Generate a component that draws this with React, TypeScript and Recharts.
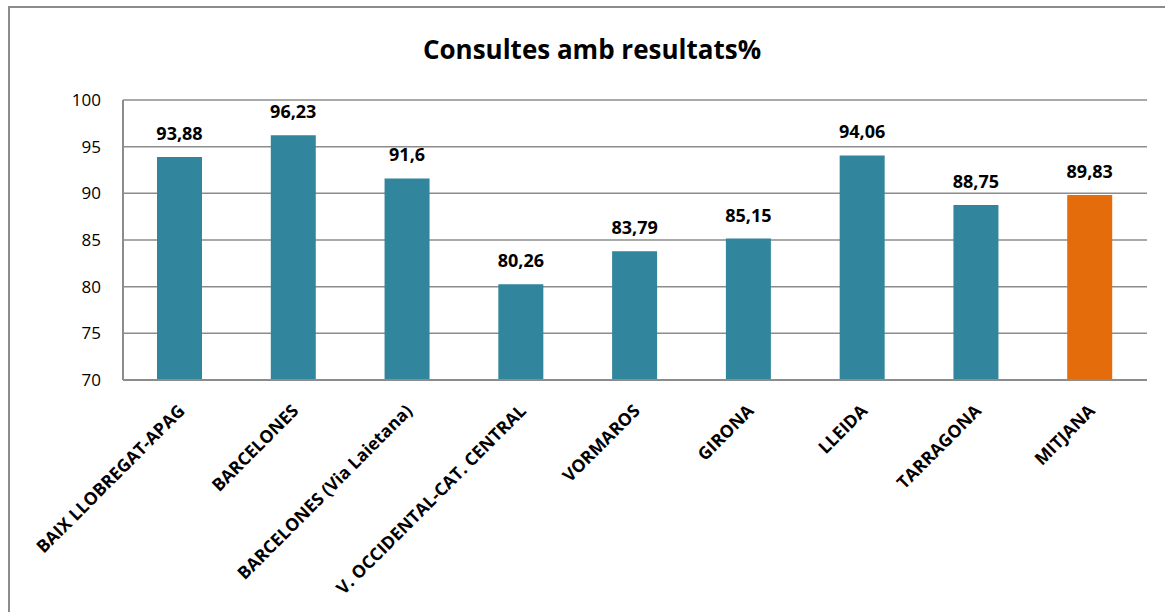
import { BarChart, Bar, XAxis, YAxis, CartesianGrid, LabelList, Cell } from "recharts";

const categories = [
  "BAIX LLOBREGAT-APAG",
  "BARCELONES",
  "BARCELONES (Via Laietana)",
  "V. OCCIDENTAL-CAT. CENTRAL",
  "VORMAROS",
  "GIRONA",
  "LLEIDA",
  "TARRAGONA",
  "MITJANA",
];
const values = [93.88, 96.23, 91.6, 80.26, 83.79, 85.15, 94.06, 88.75, 89.83];
const yTicks = [70, 75, 80, 85, 90, 95, 100];
const title = "Consultes amb resultats%";

const TEAL = "#31859C";
const ORANGE = "#E46C0A";
const GRID = "#8C8C8C";
const FONT = "'Open Sans', sans-serif";

const data = categories.map((name, i) => ({ name, value: values[i] }));

// rotated category label, end anchored just under the tick
const AngledTick = (props: any) => {
  const { x, y, payload } = props;
  return (
    <g transform={`translate(${x + 6},${y + 24})`}>
      <text
        transform="rotate(-45)"
        textAnchor="end"
        fontFamily={FONT}
        fontWeight={700}
        fontSize={17.5}
        fill="#000"
      >
        {payload.value}
      </text>
    </g>
  );
};

export default function App() {
  return (
    <div style={{ position: "fixed", left: 0, top: 0, width: 1165, height: 612, overflow: "hidden", background: "#fff" }}>
      <div
        style={{
          position: "absolute",
          left: 8,
          top: 6,
          width: 1200,
          height: 700,
          borderLeft: `2px solid ${GRID}`,
          borderTop: `2px solid ${GRID}`,
        }}
      />
      <BarChart
        width={1165}
        height={612}
        data={data}
        margin={{ top: 100, right: 18, bottom: 32, left: 62 }}
        barSize={45}
      >
        <CartesianGrid vertical={false} stroke={GRID} strokeWidth={1.5} />
        <XAxis
          dataKey="name"
          interval={0}
          height={200}
          tickLine={false}
          axisLine={{ stroke: GRID, strokeWidth: 2 }}
          tick={<AngledTick />}
        />
        <YAxis
          domain={[70, 100]}
          ticks={yTicks}
          width={61}
          tickSize={0}
          tickMargin={22}
          tickLine={false}
          axisLine={{ stroke: GRID, strokeWidth: 2 }}
          tick={{ fontFamily: FONT, fontSize: 17, fill: "#000" }}
        />
        <Bar dataKey="value" isAnimationActive={false}>
          {data.map((d, i) => (
            <Cell key={d.name} fill={i === data.length - 1 ? ORANGE : TEAL} />
          ))}
          <LabelList
            dataKey="value"
            position="top"
            offset={17}
            formatter={(v: any) => String(v).replace(".", ",")}
            style={{ fontFamily: FONT, fontWeight: 700, fontSize: 18, fill: "#000" }}
          />
        </Bar>
      </BarChart>
      <svg width={1165} height={612} style={{ position: "absolute", left: 0, top: 0, pointerEvents: "none" }}>
        <text x={592} y={59} textAnchor="middle" fontFamily={FONT} fontWeight={700} fontSize={26} fill="#000">
          {title}
        </text>
      </svg>
    </div>
  );
}
